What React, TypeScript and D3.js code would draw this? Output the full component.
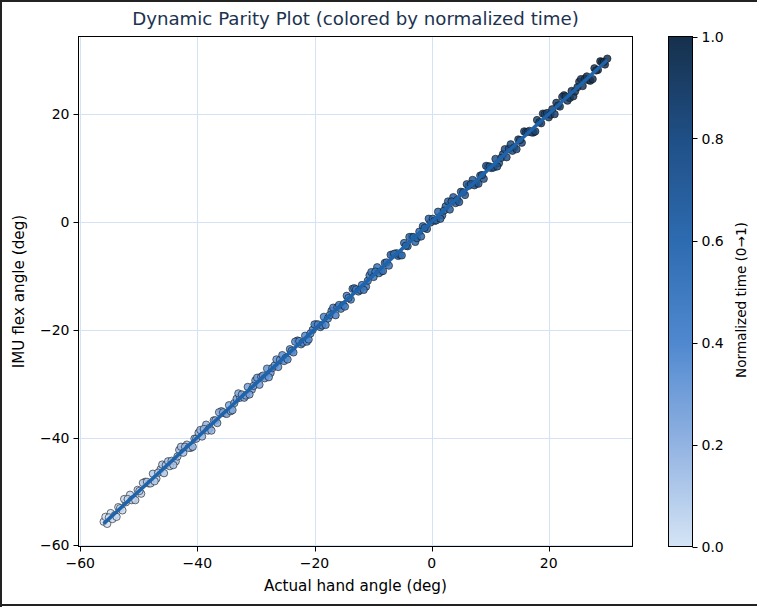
import React from "react";
import * as d3 from "d3";

// ---- data ----
const actualAngle = [
  -56.0, -55.4, -54.8, -54.1, -53.5, -52.8, -52.2, -51.5, -50.9, -50.2,
  -49.6, -48.9, -48.3, -47.6, -47.0, -46.3, -45.7, -45.0, -44.4, -43.7,
  -43.1, -42.4, -41.8, -41.1, -40.5, -39.8, -39.2, -38.5, -37.9, -37.2,
  -36.6, -35.9, -35.3, -34.6, -34.0, -33.3, -32.7, -32.0, -31.4, -30.7,
  -30.1, -29.4, -28.8, -28.1, -27.5, -26.8, -26.2, -25.5, -24.9, -24.2,
  -23.6, -22.9, -22.3, -21.6, -21.0, -20.3, -19.7, -19.0, -18.4, -17.7,
  -17.1, -16.4, -15.8, -15.1, -14.5, -13.8, -13.2, -12.5, -11.9, -11.2,
  -10.6, -9.9, -9.3, -8.6, -8.0, -7.3, -6.7, -6.0, -5.4, -4.7,
  -4.1, -3.4, -2.8, -2.1, -1.5, -0.8, -0.2, 0.5, 1.1, 1.8,
  2.4, 3.1, 3.7, 4.4, 5.0, 5.7, 6.3, 7.0, 7.6, 8.3,
  8.9, 9.6, 10.2, 10.9, 11.5, 12.2, 12.8, 13.5, 14.1, 14.8,
  15.4, 16.1, 16.7, 17.4, 18.0, 18.7, 19.3, 20.0, 20.6, 21.3,
  21.9, 22.6, 23.2, 23.9, 24.5, 25.2, 25.8, 26.5, 27.1, 27.8,
  28.4, 29.1, 29.6, 30.0,
  -55.7, -55.1, -54.5, -53.8, -53.2, -52.5, -51.9, -51.2, -50.6, -49.9,
  -49.3, -48.6, -48.0, -47.3, -46.7, -46.0, -45.4, -44.7, -44.1, -43.4,
  -42.8, -42.1, -41.5, -40.8, -40.2, -39.5, -38.9, -38.2, -37.6, -36.9,
  -36.3, -35.6, -35.0, -34.3, -33.7, -33.0, -32.4, -31.7, -31.1, -30.4,
  -29.8, -29.1, -28.5, -27.8, -27.2, -26.5, -25.9, -25.2, -24.6, -23.9,
  -23.3, -22.6, -22.0, -21.3, -20.7, -20.0, -19.4, -18.7, -18.1, -17.4,
  -16.8, -16.1, -15.5, -14.8, -14.2, -13.5, -12.9, -12.2, -11.6, -10.9,
  -10.3, -9.6, -9.0, -8.3, -7.7, -7.0, -6.4, -5.7, -5.1, -4.4,
  -3.8, -3.1, -2.5, -1.8, -1.2, -0.5, 0.2, 0.8, 1.5, 2.1,
  2.8, 3.4, 4.1, 4.7, 5.4, 6.0, 6.7, 7.3, 8.0, 8.6,
  9.3, 9.9, 10.6, 11.2, 11.9, 12.5, 13.2, 13.8, 14.5, 15.1,
  15.8, 16.4, 17.1, 17.7, 18.4, 19.0, 19.7, 20.3, 21.0, 21.6,
  22.3, 22.9, 23.6, 24.2, 24.9, 25.5, 26.2, 26.8, 27.5, 28.1,
  28.8, 29.4,
];

const imuAngle = [
  -55.6, -56.0, -54.0, -54.4, -52.9, -53.5, -52.0, -50.6, -51.4, -49.7,
  -50.4, -48.2, -48.5, -46.7, -47.6, -45.9, -46.6, -44.4, -44.3, -44.4,
  -42.3, -42.8, -41.3, -41.9, -40.2, -39.1, -39.8, -37.6, -38.2, -36.8,
  -37.3, -35.1, -35.5, -34.0, -34.9, -32.8, -32.6, -32.6, -30.6, -31.1,
  -29.4, -30.2, -28.5, -27.2, -28.0, -26.6, -26.9, -24.7, -25.2, -23.6,
  -24.2, -22.0, -22.7, -21.1, -21.8, -20.0, -19.0, -19.5, -17.6, -17.9,
  -16.5, -17.3, -15.4, -15.4, -13.7, -14.4, -12.3, -12.9, -11.7, -12.0,
  -9.9, -10.2, -8.4, -9.2, -7.6, -8.1, -6.1, -5.8, -6.1, -3.9,
  -4.5, -2.8, -3.7, -1.8, -0.8, -1.3, -0.1, 0.2, 1.9, 1.2,
  2.9, 2.3, 4.6, 4.1, 5.6, 5.0, 6.7, 7.8, 7.1, 8.6,
  8.0, 10.3, 10.0, 11.7, 10.9, 12.6, 12.0, 14.4, 13.8, 15.3,
  14.7, 16.7, 16.9, 16.6, 18.9, 18.3, 20.0, 19.4, 20.9, 22.1,
  21.4, 23.5, 22.5, 24.3, 24.2, 26.0, 25.2, 27.0, 26.2, 28.5,
  28.2, 29.7, 29.2, 30.3,
  -54.7, -54.8, -55.1, -54.7, -53.1, -51.4, -51.4, -51.6, -51.6, -49.9,
  -48.4, -48.2, -48.5, -48.1, -46.5, -45.0, -45.1, -45.3, -45.1, -43.5,
  -41.7, -41.7, -41.9, -41.7, -40.2, -38.6, -38.4, -38.7, -38.7, -36.8,
  -35.3, -35.3, -35.6, -35.1, -33.6, -31.8, -32.0, -32.2, -32.0, -30.4,
  -28.9, -28.7, -29.0, -28.8, -27.1, -25.5, -25.6, -25.8, -25.5, -23.9,
  -22.2, -22.1, -22.4, -22.2, -20.7, -19.0, -19.0, -19.2, -19.1, -17.3,
  -15.9, -15.8, -16.1, -15.7, -14.1, -12.4, -12.5, -12.6, -12.6, -10.9,
  -9.3, -9.2, -9.5, -9.1, -7.5, -6.1, -5.9, -6.3, -6.2, -4.4,
  -2.8, -2.8, -3.0, -2.7, -1.1, 0.6, 0.6, 0.3, 0.6, 2.1,
  3.8, 3.8, 3.5, 3.7, 5.5, 7.0, 7.0, 6.8, 7.1, 8.7,
  10.4, 10.3, 10.1, 10.3, 11.9, 13.5, 13.6, 13.2, 13.5, 15.2,
  16.8, 16.7, 16.6, 16.8, 18.5, 20.1, 20.2, 19.9, 20.0, 21.6,
  23.2, 23.3, 23.0, 23.3, 25.0, 26.5, 26.6, 26.3, 26.5, 28.1,
  29.8, 29.7,
];

const normTime = [
  0.00, 0.01, 0.01, 0.02, 0.03, 0.04, 0.04, 0.05, 0.06, 0.07,
  0.07, 0.08, 0.09, 0.10, 0.10, 0.11, 0.12, 0.13, 0.14, 0.14,
  0.15, 0.16, 0.16, 0.17, 0.18, 0.19, 0.20, 0.20, 0.21, 0.22,
  0.23, 0.23, 0.24, 0.25, 0.26, 0.27, 0.27, 0.28, 0.29, 0.29,
  0.30, 0.31, 0.32, 0.33, 0.33, 0.34, 0.35, 0.36, 0.36, 0.37,
  0.38, 0.38, 0.39, 0.40, 0.41, 0.41, 0.42, 0.43, 0.44, 0.45,
  0.45, 0.46, 0.47, 0.48, 0.48, 0.49, 0.50, 0.51, 0.51, 0.52,
  0.53, 0.54, 0.54, 0.55, 0.56, 0.57, 0.57, 0.58, 0.59, 0.60,
  0.60, 0.61, 0.62, 0.63, 0.63, 0.64, 0.65, 0.66, 0.66, 0.67,
  0.68, 0.69, 0.69, 0.70, 0.71, 0.72, 0.72, 0.73, 0.74, 0.75,
  0.75, 0.76, 0.77, 0.78, 0.78, 0.79, 0.80, 0.81, 0.81, 0.82,
  0.83, 0.84, 0.85, 0.85, 0.86, 0.87, 0.88, 0.88, 0.89, 0.90,
  0.91, 0.91, 0.92, 0.93, 0.94, 0.94, 0.95, 0.96, 0.97, 0.97,
  0.98, 0.99, 0.99, 1.00,
  0.00, 0.01, 0.02, 0.03, 0.03, 0.04, 0.05, 0.06, 0.06, 0.07,
  0.08, 0.09, 0.09, 0.10, 0.11, 0.12, 0.12, 0.13, 0.14, 0.15,
  0.15, 0.16, 0.17, 0.18, 0.18, 0.19, 0.20, 0.21, 0.21, 0.22,
  0.23, 0.24, 0.24, 0.25, 0.26, 0.27, 0.27, 0.28, 0.29, 0.30,
  0.30, 0.31, 0.32, 0.33, 0.33, 0.34, 0.35, 0.36, 0.36, 0.37,
  0.38, 0.39, 0.40, 0.40, 0.41, 0.42, 0.43, 0.43, 0.44, 0.45,
  0.46, 0.46, 0.47, 0.48, 0.49, 0.49, 0.50, 0.51, 0.52, 0.52,
  0.53, 0.54, 0.55, 0.55, 0.56, 0.57, 0.58, 0.58, 0.59, 0.60,
  0.61, 0.61, 0.62, 0.63, 0.64, 0.65, 0.65, 0.66, 0.67, 0.68,
  0.68, 0.69, 0.70, 0.71, 0.71, 0.72, 0.73, 0.74, 0.74, 0.75,
  0.76, 0.77, 0.77, 0.78, 0.79, 0.80, 0.80, 0.81, 0.82, 0.83,
  0.83, 0.84, 0.85, 0.86, 0.86, 0.87, 0.88, 0.89, 0.89, 0.90,
  0.91, 0.92, 0.92, 0.93, 0.94, 0.95, 0.95, 0.96, 0.97, 0.98,
  0.98, 0.99,
];

const fitRange = [-56.0, 30.0];
const fitSlope = 1.0;
const fitIntercept = 0.05;

const xTicks = [-60, -40, -20, 0, 20];
const yTicks = [-60, -40, -20, 0, 20];
const cbTicks = [0.0, 0.2, 0.4, 0.6, 0.8, 1.0];

const cmapStops = ["#d4e4f5", "#92b3e2", "#4f88cf", "#2d6bb0", "#1f4f86", "#16304c"];

const titleText = "Dynamic Parity Plot (colored by normalized time)";
const xLabel = "Actual hand angle (deg)";
const yLabel = "IMU flex angle (deg)";
const cbLabel = "Normalized time (0\u21921)";

// ---- layout ----
const W = 757;
const H = 607;
const plot = { left: 78.5, right: 632.5, top: 36.5, bottom: 546.5 };
const cb = { left: 668.5, right: 692.5 };
const font = "'DejaVu Sans', sans-serif";
const minus = (v: number) => (v < 0 ? "\u2212" + Math.abs(v) : String(v));

export default function App() {
  const x = d3.scaleLinear().domain([-60.3, 34.3]).range([plot.left, plot.right]);
  const y = d3.scaleLinear().domain([-60.2, 34.4]).range([plot.bottom, plot.top]);
  const cmap = d3.scaleLinear<string>()
    .domain(cmapStops.map((_, i) => i / (cmapStops.length - 1)))
    .range(cmapStops)
    .interpolate(d3.interpolateRgb);
  const cbY = d3.scaleLinear().domain([0, 1]).range([plot.bottom, plot.top]);

  const pts = actualAngle
    .map((a, i) => ({ a, m: imuAngle[i], t: normTime[i] }))
    .sort((p, q) => p.t - q.t);
  const fitLine = d3.line<number>().x((v) => x(v)).y((v) => y(fitSlope * v + fitIntercept));
  const gradStops = d3.range(0, 1.0001, 0.05);

  return (
    <div style={{ position: "absolute", left: 0, top: 0 }}>
      <svg width={W} height={H} style={{ display: "block", background: "#fff" }} fontFamily={font}>
        <defs>
          <linearGradient id="cbgrad" x1="0" y1="1" x2="0" y2="0">
            {gradStops.map((s) => (
              <stop key={s} offset={s} stopColor={cmap(s)} />
            ))}
          </linearGradient>
          <clipPath id="plotclip">
            <rect x={plot.left} y={plot.top} width={plot.right - plot.left} height={plot.bottom - plot.top} />
          </clipPath>
        </defs>
        <rect x={0} y={0} width={W} height={H} fill="#fff" />

        {/* grid */}
        <g stroke="#d3e2f5" strokeWidth={1}>
          {xTicks.map((t) => (
            <line key={"gx" + t} x1={Math.round(x(t)) + 0.5} x2={Math.round(x(t)) + 0.5} y1={plot.top} y2={plot.bottom} />
          ))}
          {yTicks.map((t) => (
            <line key={"gy" + t} x1={plot.left} x2={plot.right} y1={Math.round(y(t)) + 0.5} y2={Math.round(y(t)) + 0.5} />
          ))}
        </g>

        {/* points */}
        <g clipPath="url(#plotclip)">
          {pts.map((p, i) => (
            <circle
              key={i}
              cx={x(p.a)}
              cy={y(p.m)}
              r={3.7}
              fill={cmap(p.t)}
              fillOpacity={0.85}
              stroke="#111"
              strokeOpacity={0.85}
              strokeWidth={0.7}
            />
          ))}
          <path d={fitLine(fitRange) || ""} stroke="#1f63ab" strokeWidth={3.6} fill="none" />
        </g>

        {/* spines */}
        <rect x={plot.left} y={plot.top} width={plot.right - plot.left} height={plot.bottom - plot.top}
          fill="none" stroke="#000" strokeWidth={1} />

        {/* x ticks */}
        {xTicks.map((t) => (
          <g key={"xt" + t}>
            <line x1={Math.round(x(t)) + 0.5} x2={Math.round(x(t)) + 0.5} y1={plot.bottom} y2={plot.bottom + 5} stroke="#000" />
            <text x={x(t)} y={plot.bottom + 21} fontSize={14} textAnchor="middle" fill="#000">{minus(t)}</text>
          </g>
        ))}
        {/* y ticks */}
        {yTicks.map((t) => (
          <g key={"yt" + t}>
            <line x1={plot.left - 5} x2={plot.left} y1={Math.round(y(t)) + 0.5} y2={Math.round(y(t)) + 0.5} stroke="#000" />
            <text x={plot.left - 9} y={y(t) + 5} fontSize={14} textAnchor="end" fill="#000">{minus(t)}</text>
          </g>
        ))}

        {/* labels */}
        <text x={(plot.left + plot.right) / 2} y={591} fontSize={15.2} textAnchor="middle" fill="#000">{xLabel}</text>
        <text transform={`translate(24,${(plot.top + plot.bottom) / 2}) rotate(-90)`} fontSize={15.2}
          textAnchor="middle" fill="#000">{yLabel}</text>
        <text x={(plot.left + plot.right) / 2} y={25} fontSize={18.2} textAnchor="middle" fill="#1b3350">{titleText}</text>

        {/* colorbar */}
        <rect x={cb.left} y={plot.top} width={cb.right - cb.left} height={plot.bottom - plot.top}
          fill="url(#cbgrad)" stroke="#000" strokeWidth={1} />
        {cbTicks.map((t) => (
          <g key={"cb" + t}>
            <line x1={cb.right} x2={cb.right + 5} y1={Math.round(cbY(t)) + 0.5} y2={Math.round(cbY(t)) + 0.5} stroke="#000" />
            <text x={cb.right + 9} y={cbY(t) + 5} fontSize={14} fill="#000">{t.toFixed(1)}</text>
          </g>
        ))}
        <text transform={`translate(746,300) rotate(-90)`} fontSize={13.6}
          textAnchor="middle" fill="#000">{cbLabel}</text>

        {/* outer frame */}
        <line x1={0} x2={W} y1={1} y2={1} stroke="#222" strokeWidth={2} />
        <line x1={1} x2={1} y1={0} y2={H} stroke="#222" strokeWidth={2} />
        <line x1={0} x2={W} y1={H - 2} y2={H - 2} stroke="#222" strokeWidth={2} />
      </svg>
    </div>
  );
}
